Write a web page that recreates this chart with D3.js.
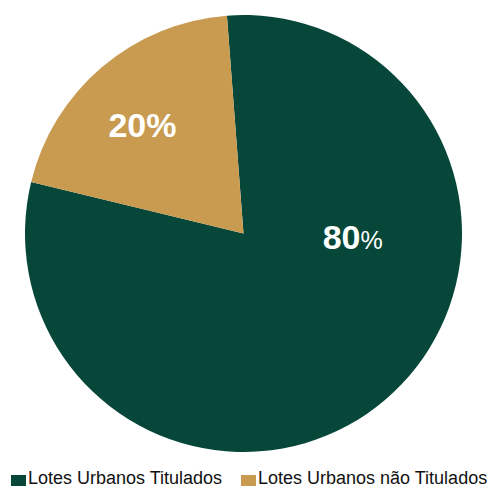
<!DOCTYPE html>
<html>
<head>
<meta charset="utf-8">
<script src="https://cdn.jsdelivr.net/npm/d3@7"></script>
<style>
  html, body { margin: 0; padding: 0; background: #fff; }
  svg { display: block; font-family: "Liberation Sans", Arial, Helvetica, sans-serif; }
</style>
</head>
<body>
<svg id="chart" width="491" height="488"></svg>
<script>
// Share of urban lots with and without title
const categories = ["Lotes Urbanos Titulados", "Lotes Urbanos não Titulados"];
const values = [80, 20];
const labels = ["80%", "20%"];
const colors = ["#06473A", "#C89B51"];

const width = 491, height = 488;
const cx = 243.5, cy = 233.5, radius = 218.5;
const deg = Math.PI / 180;

const svg = d3.select("#chart");

const color = d3.scaleOrdinal().domain(categories).range(colors);

const pie = d3.pie()
  .sort(null)
  .value(d => d.value)
  .startAngle(-4.35 * deg)
  .endAngle(355.65 * deg);

const data = categories.map((c, i) => ({ category: c, value: values[i], label: labels[i] }));
const arcs = pie(data);

const arc = d3.arc().innerRadius(0).outerRadius(radius);

const g = svg.append("g").attr("transform", `translate(${cx},${cy})`);

g.selectAll("path.slice")
  .data(arcs)
  .join("path")
  .attr("class", "slice")
  .attr("d", arc)
  .attr("fill", d => color(d.data.category));

// Label placement: small slice at its mid-angle, large slice towards the right side
function labelPos(d, i) {
  if (i === 1) {
    const a = (d.startAngle + d.endAngle) / 2 - 2.5 * deg;
    const r = radius * 0.68;
    return [r * Math.sin(a), -r * Math.cos(a)];
  }
  const a = 92 * deg, r = radius * 0.5;
  return [r * Math.sin(a), -r * Math.cos(a)];
}

const lbl = g.selectAll("text.value")
  .data(arcs)
  .join("text")
  .attr("class", "value")
  .attr("text-anchor", "middle")
  .attr("fill", "#fff")
  .attr("font-weight", "bold")
  .attr("font-size", 34)
  .attr("x", (d, i) => labelPos(d, i)[0])
  .attr("y", (d, i) => labelPos(d, i)[1] + 12);

lbl.append("tspan").text(d => d.data.label.replace("%", ""));
lbl.append("tspan")
  .text("%")
  .attr("font-weight", (d, i) => i === 0 ? "normal" : "bold")
  .attr("font-size", (d, i) => i === 0 ? 25 : 34);

// Legend
const legend = svg.append("g").attr("class", "legend");
const legendX = [11, 241];
const item = legend.selectAll("g")
  .data(categories)
  .join("g")
  .attr("transform", (d, i) => `translate(${legendX[i]},475)`);

item.append("rect")
  .attr("width", 15)
  .attr("height", 11)
  .attr("fill", d => color(d));

item.append("text")
  .attr("x", 17)
  .attr("y", 9)
  .attr("font-size", 18)
  .attr("fill", "#111")
  .text(d => d);
</script>
</body>
</html>
